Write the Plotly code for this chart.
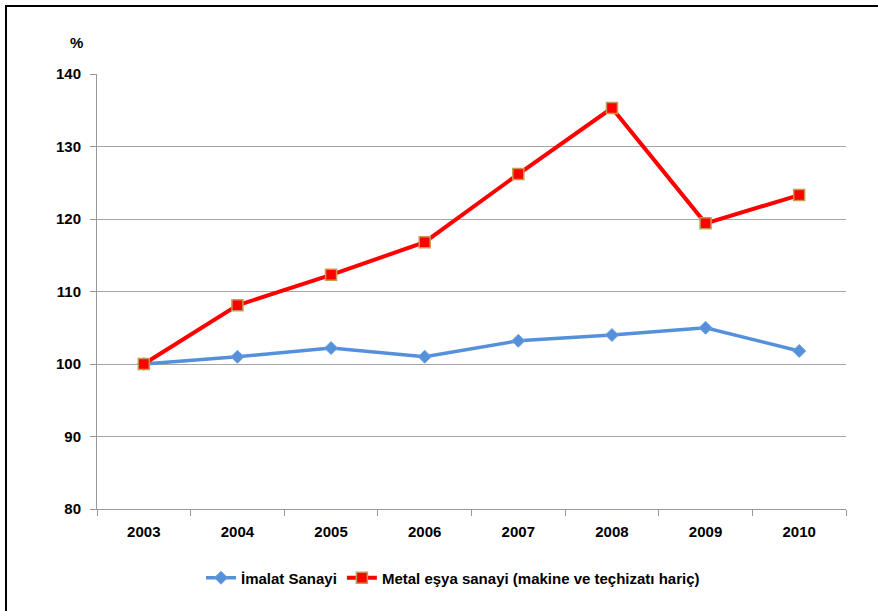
import plotly.graph_objects as go

years = ["2003", "2004", "2005", "2006", "2007", "2008", "2009", "2010"]
imalat = [100.0, 101.0, 102.2, 101.0, 103.2, 104.0, 105.0, 101.8]
metal = [100.0, 108.1, 112.3, 116.8, 126.2, 135.3, 119.4, 123.3]

name_imalat = "İmalat Sanayi"
name_metal = "Metal eşya sanayi (makine ve teçhizatı hariç)"

FONT = "Liberation Sans"

fig = go.Figure()
fig.add_trace(go.Scatter(
    x=years, y=imalat, name=name_imalat, mode="lines+markers",
    line=dict(color="#5590DA", width=3.5),
    marker=dict(symbol="diamond", size=10, color="#5590DA",
                line=dict(color="#6FA0E0", width=1)),
))
fig.add_trace(go.Scatter(
    x=years, y=metal, name=name_metal, mode="lines+markers",
    line=dict(color="#FF0000", width=4),
    marker=dict(symbol="square", size=11, color="#FF0000",
                line=dict(color="#C89A50", width=1.5)),
))

W, H = 878, 611
L, T = 97, 74
pw, ph = 749, 435
R = W - L - pw
B = H - T - ph

def px_to_paper_x(px):
    return (px - L) / pw

def px_to_paper_y(py):
    return (T + ph - py) / ph

fig.update_layout(
    width=W, height=H,
    margin=dict(l=L, r=R, t=T, b=B),
    paper_bgcolor="white", plot_bgcolor="white",
    font=dict(family=FONT, size=15, color="black"),
    showlegend=True,
    legend=dict(
        orientation="h", x=px_to_paper_x(201), xanchor="left",
        y=px_to_paper_y(578), yanchor="middle",
        font=dict(family=FONT, size=15, color="black", weight="bold"),
        itemwidth=30, tracegroupgap=0,
    ),
    xaxis=dict(
        type="category", range=[-0.5, 7.5],
        showgrid=False, showline=True, linecolor="#999999", linewidth=1,
        ticks="outside", tickson="boundaries", ticklen=6, tickcolor="#999999",
        ticklabelstandoff=9,
        tickfont=dict(family=FONT, size=15, color="black", weight="bold"),
        zeroline=False,
    ),
    yaxis=dict(
        range=[80, 140], dtick=10, tick0=80,
        showgrid=True, gridcolor="#A6A6A6", gridwidth=1,
        showline=True, linecolor="#999999", linewidth=1,
        ticks="outside", ticklen=6, tickcolor="#999999",
        ticklabelstandoff=6,
        tickfont=dict(family=FONT, size=15, color="black", weight="bold"),
        zeroline=False,
    ),
    annotations=[dict(
        text="<b>%</b>", xref="paper", yref="paper",
        x=px_to_paper_x(76), y=px_to_paper_y(43),
        xanchor="center", yanchor="middle", showarrow=False,
        font=dict(family=FONT, size=15, color="black"),
    )],
    shapes=[
        dict(type="line", xref="paper", yref="paper",
             x0=px_to_paper_x(6), x1=px_to_paper_x(6),
             y0=px_to_paper_y(6), y1=px_to_paper_y(620),
             line=dict(color="black", width=2)),
        dict(type="line", xref="paper", yref="paper",
             x0=px_to_paper_x(5), x1=px_to_paper_x(885),
             y0=px_to_paper_y(6), y1=px_to_paper_y(6),
             line=dict(color="black", width=2)),
    ],
)

fig.write_html("out.html", config={"displayModeBar": False},
               post_script="document.body.style.margin='0';")
